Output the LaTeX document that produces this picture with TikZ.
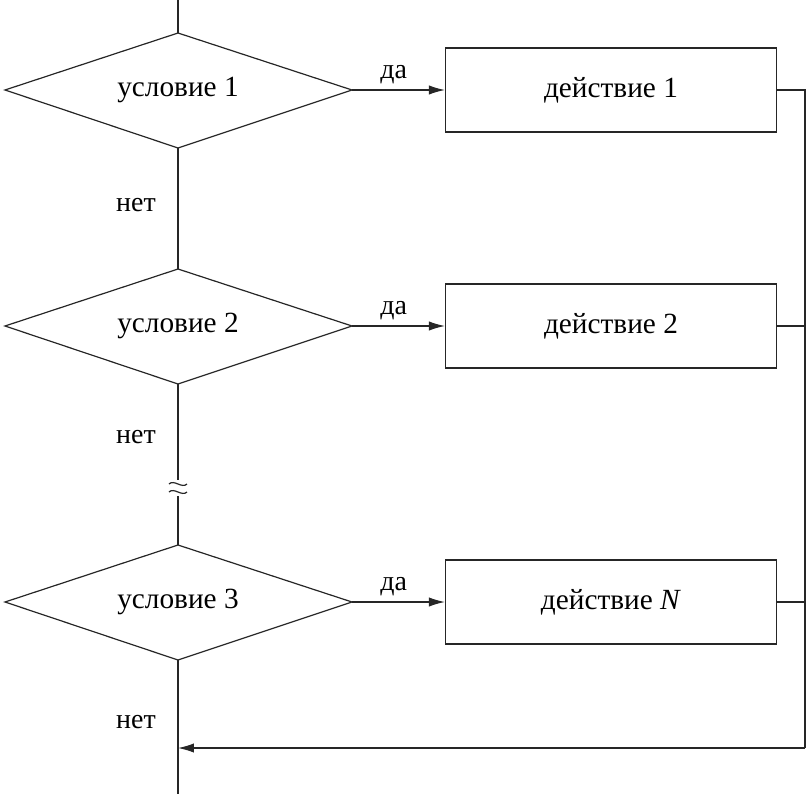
\documentclass[tikz,border=0pt]{standalone}
\usepackage{fontspec}
\setmainfont{Liberation Serif}
\usetikzlibrary{arrows.meta}
\begin{document}
\begin{tikzpicture}[x=0.0264cm,y=-0.0264cm,
  line/.style={draw=black!85,line width=0.9pt},
  arr/.style={line,-{Latex[length=12pt,width=7pt]}},
  box/.style={line,rectangle,minimum width=331*0.0264cm,minimum height=84*0.0264cm,font=\fontsize{22}{26}\selectfont},
  lbl/.style={font=\fontsize{21}{25}\selectfont}]
\useasboundingbox (0,0) rectangle (812,794);
\foreach \i/\y/\t in {1/90/условие 1,2/326/условие 2,3/602/условие 3}{
  \draw[line] (5,\y) -- (178,\y-57) -- (352,\y) -- (178,\y+58) -- cycle;
  \node[font=\fontsize{22}{26}\selectfont] (c\i) at (178,\y) {\t};
  \coordinate (r\i) at (352,\y);
  \coordinate (t\i) at (178,\y-57);
  \coordinate (b\i) at (178,\y+58);
}
\node[box] (a1) at (611,90) {действие 1};
\node[box] (a2) at (611,326) {действие 2};
\node[box] (a3) at (611,602) {действие \textit{N}};
\draw[arr] (r1) -- node[lbl,above,pos=0.45,yshift=1pt]{да} (a1);
\draw[arr] (r2) -- node[lbl,above,pos=0.45,yshift=1pt]{да} (a2);
\draw[arr] (r3) -- node[lbl,above,pos=0.45,yshift=1pt]{да} (a3);
\coordinate (top) at (178,0);
\coordinate (bot) at (178,794);
\coordinate (br1) at (178,480);
\coordinate (br2) at (178,496);
\coordinate (ret) at (805,748);
\coordinate (end) at (178,748);
\draw[line] (top) -- (t1);
\draw[line] (b1) -- (t2);
\draw[line] (b2) -- (br1);
\draw[line] (br2) -- (t3);
\draw[line] (b3) -- (bot);
\draw[line] (169,484) .. controls (174,479) and (182,489) .. (187,484);
\draw[line] (169,492) .. controls (174,487) and (182,497) .. (187,492);
\draw[line] (a1.east) -- (805,90) -- (ret);
\draw[line] (a2.east) -- (805,326);
\draw[line] (a3.east) -- (805,602);
\draw[arr] (ret) -- (end);
\node[lbl] at (136,205) {нет};
\node[lbl] at (136,437) {нет};
\node[lbl] at (136,722) {нет};
\end{tikzpicture}
\end{document}
